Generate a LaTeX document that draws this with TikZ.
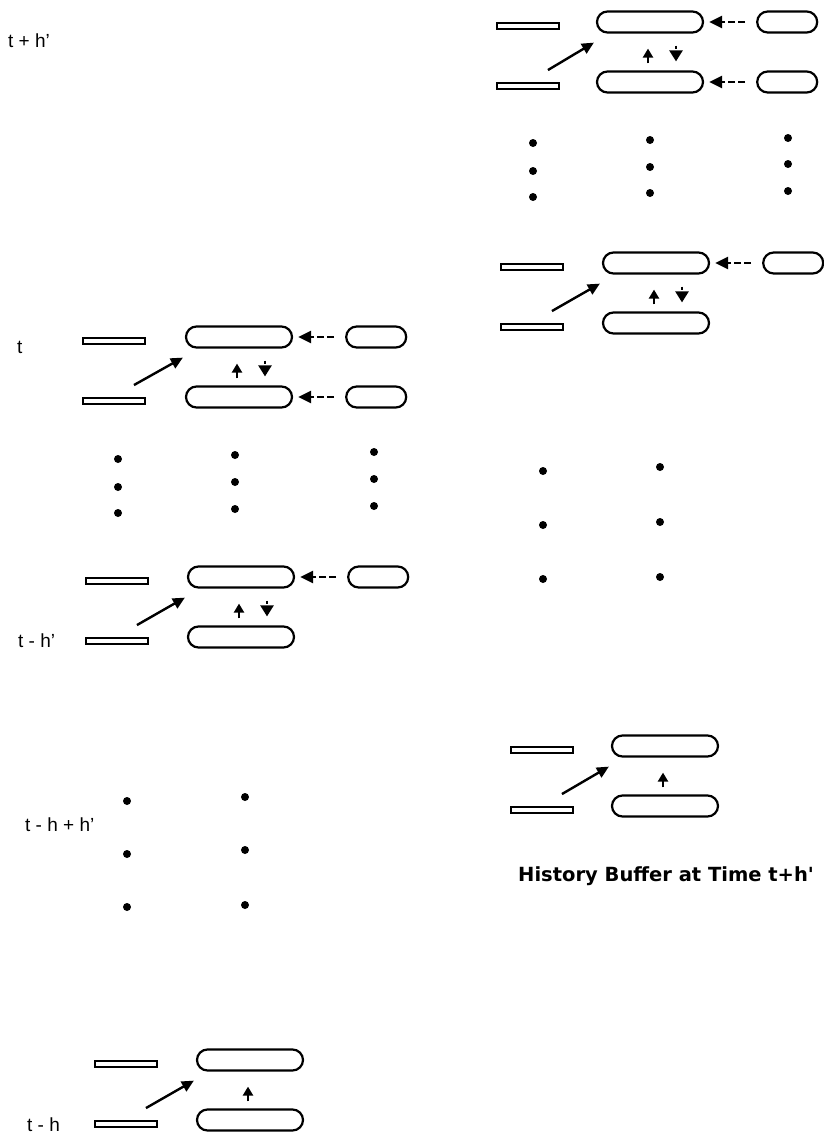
\documentclass[tikz,border=0pt]{standalone}
\usepackage{fontspec}
\setmainfont{Liberation Sans}
\newfontfamily\capfont{DejaVu Sans}
\usepackage{tikz}
\usetikzlibrary{positioning, arrows.meta}

\begin{document}
\begin{tikzpicture}[x=1pt, y=1pt,
    slot/.style={draw, line width=1.9pt, fill=white, minimum width=62pt, minimum height=6pt, inner sep=0pt},
    cell/.style={draw, line width=2.2pt, rounded corners=10.5pt, minimum width=106pt, minimum height=21pt, inner sep=0pt},
    newcell/.style={cell, minimum width=60pt},
    arr/.style={-{Triangle[length=12pt, width=11pt]}, line width=2.4pt},
    uparr/.style={-{Triangle[length=9pt, width=10pt]}, line width=2.6pt},
    darr/.style={-{Triangle[length=13pt, width=12pt]}, line width=2.4pt, dash pattern=on 7pt off 3pt},
    downarr/.style={-{Triangle[length=11pt, width=13pt]}, line width=2.4pt, dash pattern=on 3pt off 3pt},
    lbl/.style={font=\fontsize{19}{22}\selectfont, anchor=west, inner sep=0pt}]
    \useasboundingbox (0,0) rectangle (823,-1135);

    % Zeitlabels links
    \node[lbl] (lth) at (8,-41) {t + h'};
    \node[lbl] (lt) at (17,-347) {t};
    \node[lbl] (ltmh) at (18,-641) {t - h'};
    \node[lbl] (lthh) at (25,-825) {t - h + h'};
    \node[lbl] (ltmhh) at (27,-1125) {t - h};

    % Puffer-Paare: Slot, Zelle, Pfeile
    \foreach \n/\sx/\cx/\y in {t/114/239/337, th/117/241/577, tt/126/250/1060,
                               ra/528/650/22, rb/532/656/263, rc/542/665/746} {
        \node[slot] (\n-s1) at (\sx,-\y-4) {};
        \node[slot] (\n-s2) at (\sx,-\y-64) {};
        \node[cell] (\n-c1) at (\cx,-\y) {};
        \node[cell] (\n-c2) at (\cx,-\y-60) {};
        \draw[arr] ([shift={(-12pt,12pt)}]\n-s2.north east) -- ([shift={(-2pt,-9pt)}]\n-c1.south west);
        \draw[uparr] ([shift={(-2pt,7pt)}]\n-c2.north) -- ([shift={(-2pt,-15pt)}]\n-c1.south);
    }

    % naechster Rahmen (oben)
    \foreach \n in {t, th, ra, rb} {
        \node[newcell, right=52pt of \n-c1] (\n-n1) {};
        \draw[darr, shorten <=11pt, shorten >=5pt] (\n-n1) -- (\n-c1);
        \draw[downarr] ([shift={(26pt,-12pt)}]\n-c1.south) -- ([shift={(26pt,9pt)}]\n-c2.north);
    }

    % naechster Rahmen (unten)
    \foreach \n in {t, ra} {
        \node[newcell, right=52pt of \n-c2] (\n-n2) {};
        \draw[darr, shorten <=11pt, shorten >=5pt] (\n-n2) -- (\n-c2);
    }

    % Punkte
    \foreach \x/\y in {118/459, 118/487, 118/513, 235/455, 235/482, 235/509, 374/452, 374/479, 374/506,
                       127/801, 127/854, 127/907, 245/797, 245/850, 245/905,
                       533/143, 533/171, 533/197, 650/140, 650/167, 650/193, 788/138, 788/164, 788/191,
                       543/471, 543/525, 543/579, 660/467, 660/522, 660/577} {
        \fill (\x,-\y) circle (4pt);
    }

    % Bildunterschrift
    \node[anchor=west, inner sep=0pt, font=\capfont\bfseries\fontsize{19.5}{23}\selectfont] (cap) at (518,-876) {History Buffer at Time t+h'};
\end{tikzpicture}
\end{document}
